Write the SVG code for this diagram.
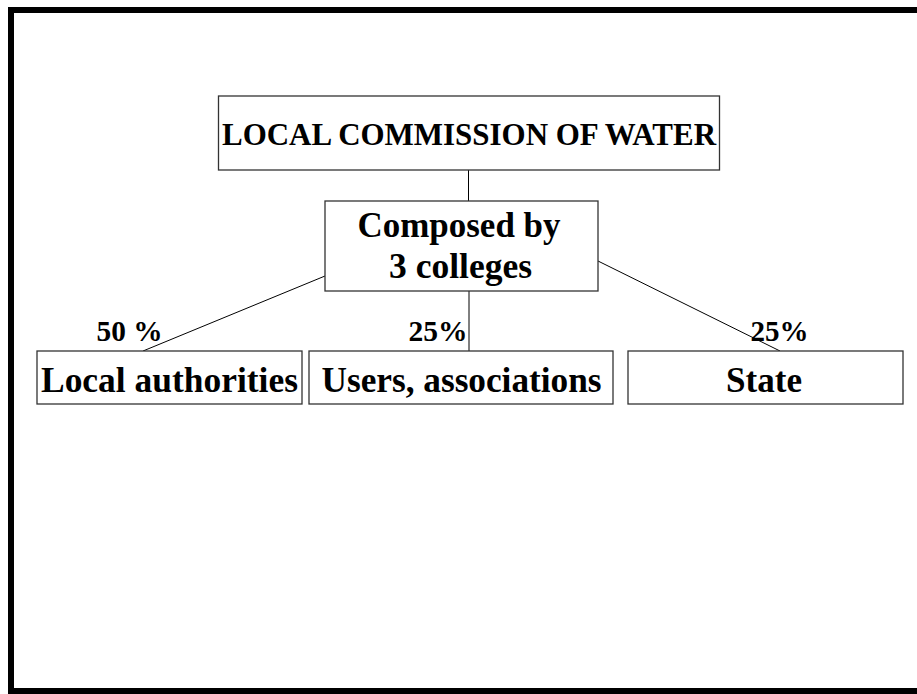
<svg xmlns="http://www.w3.org/2000/svg" width="917" height="694" viewBox="0 0 917 694">
<style>
.box{fill:#fff;stroke:#333;stroke-width:1.3}
.t{font-family:"Liberation Serif","Times New Roman",serif;font-weight:bold;fill:#000;text-anchor:middle}
.c{stroke:#000;stroke-width:1;fill:none}
</style>
<rect x="0" y="0" width="917" height="694" fill="#fff"/>
<rect x="11" y="10" width="1000" height="681" fill="none" stroke="#000" stroke-width="6"/>
<g id="connectors">
<line class="c" x1="468.5" y1="170" x2="468.5" y2="201"/>
<line class="c" x1="325" y1="276" x2="143" y2="351"/>
<line class="c" x1="469" y1="291" x2="469" y2="351"/>
<line class="c" x1="598" y1="261" x2="780" y2="351"/>
</g>
<g id="commission">
<rect class="box" x="218.5" y="96" width="501" height="74"/>
<text class="t" x="469" y="145" font-size="31" textLength="494" lengthAdjust="spacingAndGlyphs">LOCAL COMMISSION OF WATER</text>
</g>
<g id="colleges">
<rect class="box" x="325" y="201" width="273" height="90"/>
<text class="t" x="459" y="237" font-size="36" textLength="203" lengthAdjust="spacingAndGlyphs">Composed by</text>
<text class="t" x="460.5" y="278" font-size="36" textLength="143" lengthAdjust="spacingAndGlyphs">3 colleges</text>
</g>
<g id="local">
<rect class="box" x="37" y="351" width="265" height="53"/>
<text class="t" x="169.5" y="392" font-size="36" textLength="257" lengthAdjust="spacingAndGlyphs">Local authorities</text>
</g>
<g id="users">
<rect class="box" x="309" y="351" width="304" height="53"/>
<text class="t" x="461.5" y="392" font-size="36" textLength="280" lengthAdjust="spacingAndGlyphs">Users, associations</text>
</g>
<g id="state">
<rect class="box" x="628" y="351" width="275" height="53"/>
<text class="t" x="764" y="392" font-size="36" textLength="76" lengthAdjust="spacingAndGlyphs">State</text>
</g>
<g id="labels">
<text class="t" x="129.5" y="341" font-size="30" textLength="66" lengthAdjust="spacingAndGlyphs">50 %</text>
<text class="t" x="438" y="341" font-size="30" textLength="59" lengthAdjust="spacingAndGlyphs">25%</text>
<text class="t" x="779.5" y="341" font-size="30" textLength="58" lengthAdjust="spacingAndGlyphs">25%</text>
</g>
</svg>
